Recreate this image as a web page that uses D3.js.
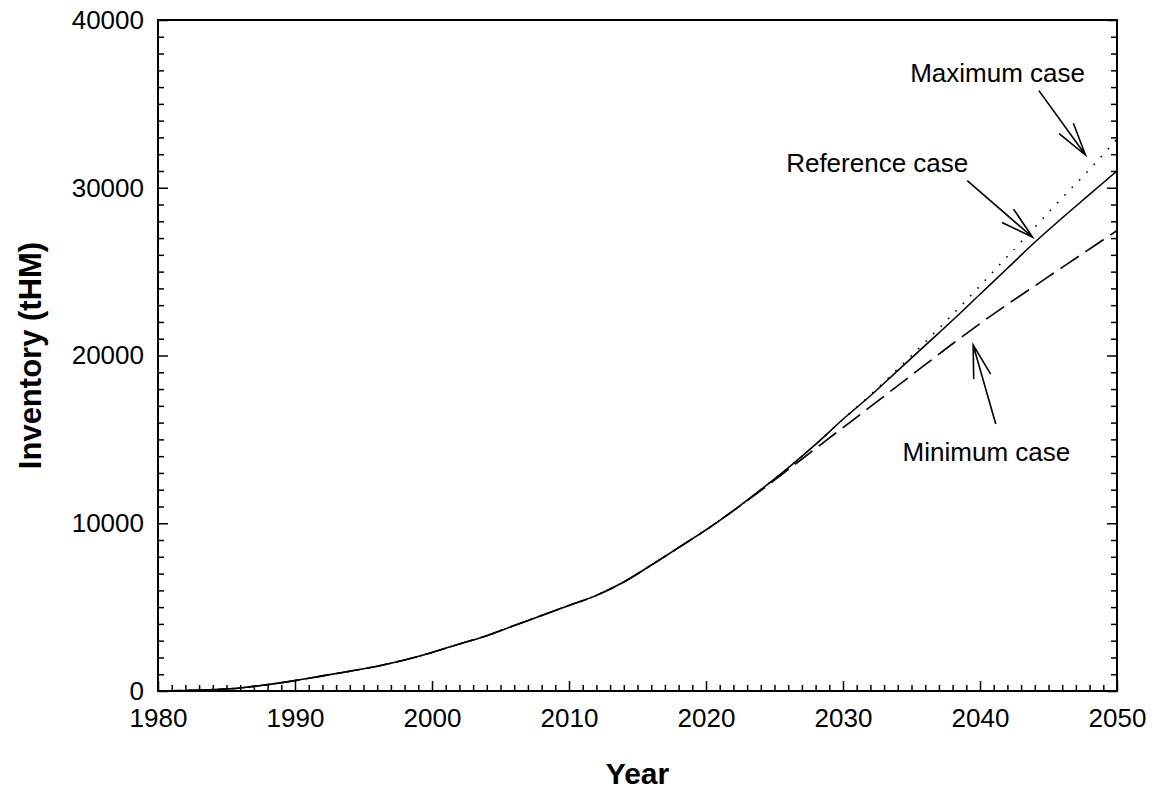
<!DOCTYPE html>
<head>
    <meta charset="utf-8">
    <title>Inventory</title>
    <script type="text/javascript" src="https://d3js.org/d3.v7.min.js"></script>
    <style>
        body { margin: 0; background: #fff; }
        svg text { font-family: "Liberation Sans", Arial, sans-serif; fill: #000; }
        .axis text { font-size: 26px; }
        .axis line { stroke: #000; stroke-width: 1.5; }
        .axis path { display: none; }
    </style>
</head>
<body>
<div id="container"></div>
<script>
    //-----------------------------DATA------------------------------//
    const years = [1980, 1982, 1984, 1986, 1988, 1990, 1992, 1994, 1996, 1998,
        2000, 2002, 2004, 2006, 2008, 2010, 2012, 2014, 2016, 2018,
        2020, 2022, 2024, 2026, 2028, 2030, 2032, 2034, 2036, 2038,
        2040, 2042, 2044, 2046, 2048, 2050];
    const referenceCase = [0, 30, 80, 180, 380, 620, 900, 1180, 1480, 1850,
        2300, 2800, 3300, 3900, 4500, 5100, 5700, 6500, 7500, 8550,
        9600, 10750, 12000, 13300, 14700, 16200, 17600, 19100, 20600, 22100,
        23650, 25200, 26750, 28200, 29600, 31000];
    const maximumCase = [0, 30, 80, 180, 380, 620, 900, 1180, 1480, 1850,
        2300, 2800, 3300, 3900, 4500, 5100, 5700, 6500, 7500, 8550,
        9600, 10750, 12000, 13300, 14700, 16200, 17650, 19200, 20800, 22450,
        24150, 25900, 27650, 29400, 31100, 32900];
    const minimumCase = [0, 30, 80, 180, 380, 620, 900, 1180, 1480, 1850,
        2300, 2800, 3300, 3900, 4500, 5100, 5700, 6500, 7500, 8550,
        9600, 10750, 11950, 13200, 14450, 15700, 16950, 18200, 19450, 20700,
        21900, 23050, 24150, 25250, 26350, 27450];
    const xTicks = [1980, 1990, 2000, 2010, 2020, 2030, 2040, 2050];
    const yTicks = [0, 10000, 20000, 30000, 40000];

    // annotations: label, label position, arrow tail and tip (year, value)
    const notes = [
        {label: "Maximum case", lx: 2034.9, ly: 36300, tail: [2044.3, 35790], tip: [2047.7, 31950]},
        {label: "Reference case", lx: 2025.85, ly: 30950, tail: [2039.07, 30420], tip: [2043.84, 27050]},
        {label: "Minimum case", lx: 2034.35, ly: 13730, tail: [2041.15, 15920], tip: [2039.5, 20630]}
    ];

    //-----------------------------SVG-------------------------------//
    const width = 1152;
    const height = 792;
    const plotLeft = 158, plotRight = 1117, plotTop = 20, plotBottom = 691;

    const svg = d3.select("div#container").append("svg")
        .attr("width", width)
        .attr("height", height);

    //----------------------------SCALES-----------------------------//
    const xScale = d3.scaleLinear().domain([1980, 2050]).range([plotLeft, plotRight]);
    const yScale = d3.scaleLinear().domain([0, 40000]).range([plotBottom, plotTop]);

    //-----------------------------AXES------------------------------//
    const minorX = d3.range(1980, 2051, 1).filter(d => d % 10 !== 0);
    const minorY = d3.range(0, 40001, 1000).filter(d => d % 10000 !== 0);

    svg.append("g").attr("class", "axis")
        .attr("transform", "translate(0," + plotBottom + ")")
        .call(d3.axisBottom(xScale).tickValues(minorX).tickSizeInner(-6).tickSizeOuter(0).tickFormat(""));
    svg.append("g").attr("class", "axis")
        .attr("transform", "translate(0," + plotBottom + ")")
        .call(d3.axisBottom(xScale).tickValues(xTicks).tickSizeInner(-10).tickSizeOuter(0)
            .tickPadding(18).tickFormat(d3.format("d")));

    svg.append("g").attr("class", "axis")
        .attr("transform", "translate(" + plotLeft + ",0)")
        .call(d3.axisLeft(yScale).tickValues(minorY).tickSizeInner(-6).tickSizeOuter(0).tickFormat(""));
    svg.append("g").attr("class", "axis")
        .attr("transform", "translate(" + plotLeft + ",0)")
        .call(d3.axisLeft(yScale).tickValues(yTicks).tickSizeInner(-10).tickSizeOuter(0)
            .tickPadding(14).tickFormat(d3.format("d")));

    svg.append("g").attr("class", "axis")
        .attr("transform", "translate(" + plotRight + ",0)")
        .call(d3.axisRight(yScale).tickValues(minorY).tickSizeInner(-6).tickSizeOuter(0).tickFormat(""));
    svg.append("g").attr("class", "axis")
        .attr("transform", "translate(" + plotRight + ",0)")
        .call(d3.axisRight(yScale).tickValues(yTicks).tickSizeInner(-10).tickSizeOuter(0).tickFormat(""));

    // frame
    svg.append("rect")
        .attr("x", plotLeft).attr("y", plotTop)
        .attr("width", plotRight - plotLeft).attr("height", plotBottom - plotTop)
        .attr("fill", "none").attr("stroke", "#000").attr("stroke-width", 2);

    // axis titles
    svg.append("text")
        .attr("x", (plotLeft + plotRight) / 2).attr("y", 784)
        .attr("text-anchor", "middle")
        .style("font-size", "30px").style("font-weight", "bold")
        .text("Year");
    svg.append("text")
        .attr("transform", "translate(41," + (plotTop + plotBottom) / 2 + ") rotate(-90)")
        .attr("text-anchor", "middle")
        .style("font-size", "31px").style("font-weight", "bold")
        .text("Inventory (tHM)");

    //----------------------------LINES------------------------------//
    const line = d3.line()
        .x(d => xScale(d[0]))
        .y(d => yScale(d[1]))
        .curve(d3.curveMonotoneX);

    const series = [
        {values: maximumCase, dash: "1.6,9"},
        {values: minimumCase, dash: "22,8"},
        {values: referenceCase, dash: null}
    ];

    svg.selectAll(".line")
        .data(series)
        .enter()
        .append("path")
        .attr("class", "line")
        .attr("d", d => line(years.map((y, i) => [y, d.values[i]])))
        .attr("fill", "none")
        .attr("stroke", "#000")
        .attr("stroke-width", 1.6)
        .attr("stroke-dasharray", d => d.dash);

    //-------------------------ANNOTATIONS---------------------------//
    notes.forEach(function(n) {
        const x0 = xScale(n.tail[0]), y0 = yScale(n.tail[1]);
        const x1 = xScale(n.tip[0]), y1 = yScale(n.tip[1]);
        const ang = Math.atan2(y0 - y1, x0 - x1);
        const len = 34, spread = 15 * Math.PI / 180;
        const head = [ang - spread, ang + spread].map(a => [x1 + len * Math.cos(a), y1 + len * Math.sin(a)]);

        svg.append("path")
            .attr("d", "M" + x0 + "," + y0 + "L" + x1 + "," + y1 +
                "M" + head[0][0] + "," + head[0][1] + "L" + x1 + "," + y1 +
                "L" + head[1][0] + "," + head[1][1])
            .attr("fill", "none")
            .attr("stroke", "#000")
            .attr("stroke-width", 1.6);

        svg.append("text")
            .attr("x", xScale(n.lx))
            .attr("y", yScale(n.ly))
            .style("font-size", "26px")
            .text(n.label);
    });
</script>
</body>
